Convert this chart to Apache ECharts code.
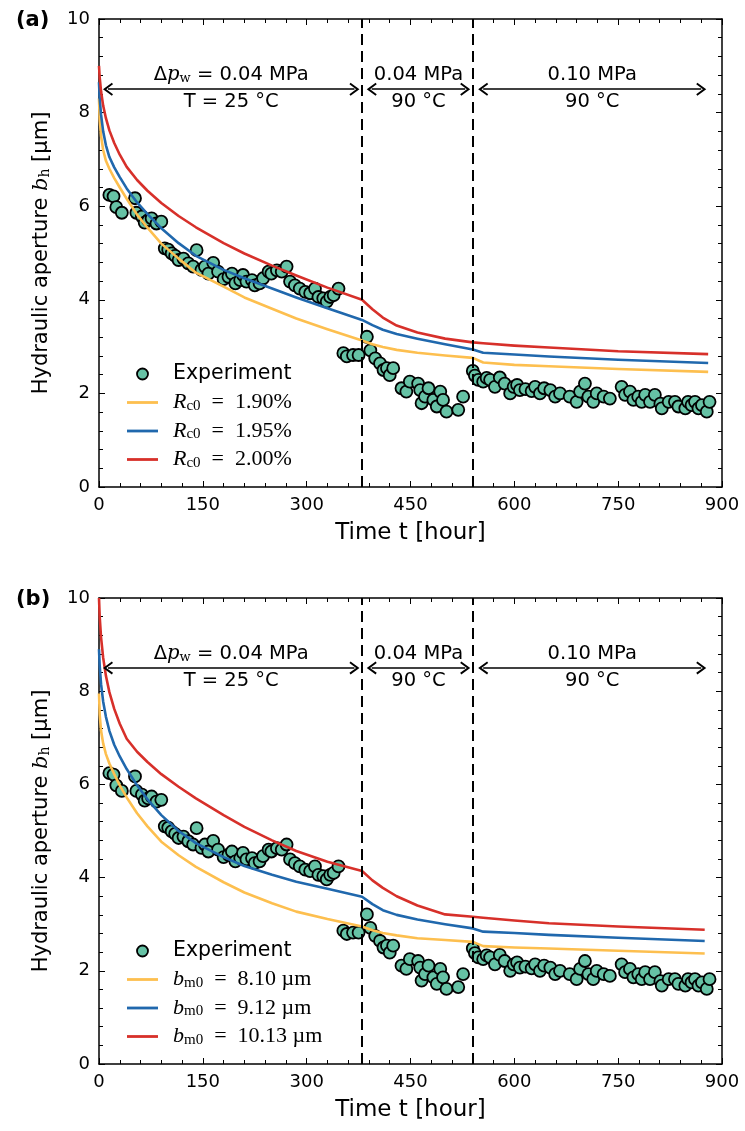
<!DOCTYPE html>
<html><head><meta charset="utf-8">
<script src="https://cdn.jsdelivr.net/npm/echarts@6/dist/echarts.min.js"></script>
<style>html,body{margin:0;padding:0;background:#fff}#c{width:745px;height:1131px}</style>
</head><body><div id="c"></div><script>
// ---------- data ----------
const expTime = [15,21,25,33,52,54,62,66,71,76,83,90,
  95,100,105,110,115,122,129,136,141,148,153,158,165,172,180,187,192,197,204,208,213,221,225,232,237,245,249,257,264,271,276,283,290,298,305,312,317,324,329,334,339,346,
  353,358,367,375,387,392,
  399,406,411,416,420,425,437,444,449,461,464,466,471,476,483,488,493,497,502,519,526,
  540,543,548,555,560,565,572,579,586,594,599,604,608,616,625,630,637,643,652,659,666,680,690,695,702,707,714,719,729,738,755,760,767,772,779,784,789,796,803,811,813,823,832,837,847,851,856,861,866,871,878,882];
const expAperture = [6.24,6.21,5.98,5.86,6.17,5.86,5.78,5.65,5.70,5.74,5.63,5.67,
  5.10,5.07,4.99,4.94,4.85,4.88,4.78,4.71,5.06,4.64,4.71,4.56,4.79,4.60,4.44,4.49,4.56,4.35,4.42,4.53,4.39,4.42,4.31,4.35,4.46,4.60,4.56,4.63,4.60,4.71,4.39,4.31,4.24,4.17,4.14,4.24,4.06,4.03,3.96,4.06,4.10,4.24,
  2.86,2.79,2.82,2.82,3.21,2.92,
  2.75,2.64,2.50,2.54,2.39,2.54,2.11,2.04,2.25,2.21,2.07,1.79,1.93,2.11,1.86,1.72,2.04,1.86,1.61,1.65,1.93,
  2.48,2.38,2.29,2.25,2.33,2.29,2.14,2.34,2.21,2.00,2.14,2.18,2.07,2.09,2.05,2.14,2.00,2.11,2.07,1.93,2.00,1.93,1.82,2.04,2.21,1.93,1.82,2.00,1.93,1.89,2.14,1.97,2.04,1.86,1.93,1.82,1.97,1.82,1.97,1.78,1.68,1.82,1.82,1.72,1.68,1.82,1.75,1.82,1.68,1.75,1.61,1.82];

// panel (a): model curves for R_c0
const timeA = [0,1,3,6,10,15,22,30,40,55,70,90,115,140,180,210,250,285,330,380,395,410,430,460,500,540,555,600,650,750,880];
const rc190 = [8.3,7.85,7.5,7.2,6.97,6.8,6.6,6.4,6.16,5.82,5.54,5.2,4.88,4.58,4.28,4.05,3.81,3.6,3.37,3.13,3.05,2.99,2.93,2.87,2.81,2.76,2.66,2.61,2.58,2.52,2.46];
const rc195 = [8.65,8.3,7.95,7.6,7.3,7.05,6.83,6.62,6.38,6.08,5.83,5.53,5.21,4.94,4.64,4.46,4.24,4.05,3.82,3.57,3.46,3.36,3.27,3.17,3.05,2.94,2.87,2.83,2.79,2.72,2.65];
const rc200 = [9.0,8.75,8.45,8.15,7.88,7.62,7.35,7.1,6.84,6.56,6.33,6.07,5.79,5.55,5.21,4.99,4.73,4.52,4.26,4.0,3.8,3.62,3.45,3.3,3.17,3.09,3.07,3.02,2.98,2.9,2.84];

// panel (b): model curves for b_m0
const timeB = [0,1,3,6,10,15,22,30,40,55,70,90,115,140,180,210,250,285,330,380,395,410,430,460,500,540,555,600,650,750,875];
const bm810 = [7.95,7.5,7.15,6.88,6.65,6.45,6.22,5.98,5.72,5.38,5.1,4.77,4.48,4.23,3.9,3.68,3.45,3.27,3.11,2.95,2.87,2.81,2.76,2.7,2.66,2.62,2.53,2.5,2.48,2.43,2.37];
const bm912 = [8.9,8.55,8.15,7.78,7.45,7.15,6.85,6.6,6.33,5.98,5.68,5.34,5.0,4.74,4.44,4.25,4.06,3.91,3.76,3.59,3.43,3.3,3.2,3.1,3.0,2.91,2.84,2.81,2.77,2.71,2.64];
const bm1013 = [10.0,9.6,9.15,8.72,8.33,7.98,7.62,7.3,6.98,6.7,6.48,6.22,5.95,5.7,5.34,5.09,4.8,4.57,4.34,4.14,3.94,3.78,3.6,3.4,3.21,3.16,3.14,3.08,3.02,2.95,2.88];

// phases
const phaseBounds = [380, 540];
const phaseArrowFrom = [13, 394, 555];
const phaseArrowTo = [369, 529, 870];
const phaseArrowLevel = 8.5;
const phaseTop = ['{n|Δ}{i|p}{s|w}{n| = 0.04 MPa}', '{n|0.04 MPa}', '{n|0.10 MPa}'];
const phaseBottom = ['T = 25 °C', '90 °C', '90 °C'];

const legendA = {'Experiment':'Experiment','Ra1':'{r|R}{s|c0}{n|  =  1.90%}','Ra2':'{r|R}{s|c0}{n|  =  1.95%}','Ra3':'{r|R}{s|c0}{n|  =  2.00%}'};
const legendB = {'Experiment':'Experiment','Rb1':'{r|b}{s|m0}{n|  =  8.10 µm}','Rb2':'{r|b}{s|m0}{n|  =  9.12 µm}','Rb3':'{r|b}{s|m0}{n|  =  10.13 µm}'};

// ---------- styling ----------
const C_EXP = '#66c2a5', C_Y = '#fdbf4f', C_B = '#2068ad', C_R = '#d7302a';
const FONT = 'DejaVu Sans';
const CHEV = 'path://M50,0 L100,80 L88,90 L50,30 L12,90 L0,80 Z';
const LINE_ICON = 'path://M0,0 L31,0 L31,2.8 L0,2.8 Z';

const zip = (a, b) => a.map((v, i) => [v, b[i]]);

const richText = {
  n: {fontFamily: FONT, fontSize: 19.5, color: '#000', lineHeight: 24, verticalAlign: 'bottom'},
  i: {fontFamily: 'DejaVu Serif', fontStyle: 'italic', fontSize: 19.5, color: '#000', lineHeight: 24, verticalAlign: 'bottom'},
  s: {fontFamily: 'DejaVu Serif', fontSize: 13, color: '#000', lineHeight: 17, verticalAlign: 'bottom'}
};
const legendRich = {
  r: {fontFamily: 'Liberation Serif', fontStyle: 'italic', fontSize: 22, color: '#000', lineHeight: 22, verticalAlign: 'bottom'},
  s: {fontFamily: 'Liberation Serif', fontSize: 15, color: '#000', lineHeight: 16, verticalAlign: 'bottom'},
  n: {fontFamily: 'Liberation Serif', fontSize: 22, color: '#000', lineHeight: 22, verticalAlign: 'bottom'}
};

function xAxisPair(g) {
  const base = {
    gridIndex: g, type: 'value', min: 0, max: 900, interval: 150,
    axisLine: {onZero: false, lineStyle: {color: '#000', width: 1.5}},
    axisTick: {inside: true, length: 6, lineStyle: {color: '#000', width: 1}},
    minorTick: {show: true, splitNumber: 5, length: 4, lineStyle: {color: '#000', width: 1}},
    splitLine: {show: false}, minorSplitLine: {show: false}
  };
  return [
    Object.assign({}, base, {position: 'bottom',
      axisLabel: {color: '#000', fontSize: 18, fontFamily: FONT, margin: 9},
      name: 'Time t [hour]', nameLocation: 'middle', nameGap: 35,
      nameTextStyle: {color: '#000', fontSize: 23, fontFamily: FONT}}),
    Object.assign({}, base, {position: 'top', axisLabel: {show: false}})
  ];
}
function yAxisPair(g) {
  const base = {
    gridIndex: g, type: 'value', min: 0, max: 10, interval: 2,
    axisLine: {onZero: false, lineStyle: {color: '#000', width: 1.5}},
    axisTick: {inside: true, length: 6, lineStyle: {color: '#000', width: 1}},
    minorTick: {show: true, splitNumber: 5, length: 4, lineStyle: {color: '#000', width: 1}},
    splitLine: {show: false}, minorSplitLine: {show: false}
  };
  return [
    Object.assign({}, base, {position: 'left',
      axisLabel: {color: '#000', fontSize: 18, fontFamily: FONT, margin: 9},
      name: '{n|Hydraulic aperture }{i|b}{s|h}{n| [µm]}', nameLocation: 'middle', nameGap: 47,
      nameTextStyle: {color: '#000', rich: {
        n: {fontFamily: FONT, fontSize: 21, color: '#000', lineHeight: 25, verticalAlign: 'bottom'},
        i: {fontFamily: 'DejaVu Serif', fontStyle: 'italic', fontSize: 21, color: '#000', lineHeight: 25, verticalAlign: 'bottom'},
        s: {fontFamily: 'DejaVu Serif', fontSize: 14, color: '#000', lineHeight: 18, verticalAlign: 'bottom'}}}}),
    Object.assign({}, base, {position: 'right', axisLabel: {show: false}})
  ];
}

function phaseMarks() {
  const d = phaseBounds.map(x => ({xAxis: x}));
  for (let k = 0; k < 3; k++) {
    d.push([
      {coord: [phaseArrowFrom[k], phaseArrowLevel], symbol: CHEV, symbolSize: [13, 10],
       lineStyle: {type: 'solid', width: 1.6, color: '#000'},
       label: {show: true, position: 'insideMiddleTop', distance: 4, formatter: phaseTop[k], rich: richText}},
      {coord: [phaseArrowTo[k], phaseArrowLevel], symbol: CHEV, symbolSize: [13, 10]}
    ]);
    d.push([
      {coord: [phaseArrowFrom[k], phaseArrowLevel], symbol: 'none',
       lineStyle: {type: 'solid', width: 0.1, color: 'rgba(0,0,0,0)'},
       label: {show: true, position: 'insideMiddleBottom', distance: 3, formatter: phaseBottom[k],
               color: '#000', fontSize: 19.5, fontFamily: FONT}},
      {coord: [phaseArrowTo[k], phaseArrowLevel], symbol: 'none'}
    ]);
  }
  return {
    silent: true, animation: false, symbol: ['none', 'none'],
    label: {show: false},
    lineStyle: {color: '#000', width: 2, type: [11, 6]},
    emphasis: {disabled: true},
    data: d
  };
}

function expSeries(g) {
  return {
    name: 'Experiment', type: 'scatter', xAxisIndex: 2 * g, yAxisIndex: 2 * g,
    data: zip(expTime, expAperture), symbol: 'circle', symbolSize: 12, z: 2,
    itemStyle: {color: C_EXP, borderColor: '#000', borderWidth: 1.8, opacity: 1},
    markLine: phaseMarks()
  };
}
function curve(name, g, t, v, color) {
  return {
    name, type: 'line', xAxisIndex: 2 * g, yAxisIndex: 2 * g, data: zip(t, v),
    showSymbol: false, symbol: 'none', smooth: false, z: 3,
    lineStyle: {color, width: 2.6, join: 'round'}, itemStyle: {color}
  };
}
function legend(g, top, names, map) {
  return {
    show: true, orient: 'vertical', left: 122, top, itemWidth: 31, itemHeight: 11, itemGap: 6.5,
    selectedMode: false,
    data: names.map((n, i) => i === 0
      ? {name: n, icon: 'circle', itemStyle: {color: C_EXP, borderColor: '#000', borderWidth: 1.8}}
      : {name: n, icon: LINE_ICON}),
    formatter: n => map[n],
    textStyle: {color: '#000', fontFamily: FONT, fontSize: 20.5, lineHeight: 22, padding: [0, 0, 0, 10], rich: legendRich}
  };
}

const chart = echarts.init(document.getElementById('c'));
chart.setOption({
  animation: false,
  backgroundColor: '#fff',
  title: [
    {text: '(a)', left: 11, top: 5, textStyle: {fontFamily: FONT, fontWeight: 'bold', fontSize: 21, color: '#000'}},
    {text: '(b)', left: 11, top: 584, textStyle: {fontFamily: FONT, fontWeight: 'bold', fontSize: 21, color: '#000'}}
  ],
  grid: [
    {left: 99, top: 19, width: 623, height: 468},
    {left: 99, top: 598, width: 623, height: 466}
  ],
  xAxis: [...xAxisPair(0), ...xAxisPair(1)],
  yAxis: [...yAxisPair(0), ...yAxisPair(1)],
  legend: [
    legend(0, 358, ['Experiment', 'Ra1', 'Ra2', 'Ra3'], legendA),
    legend(1, 935, ['Experiment', 'Rb1', 'Rb2', 'Rb3'], legendB)
  ],
  series: [
    expSeries(0),
    curve('Ra1', 0, timeA, rc190, C_Y),
    curve('Ra2', 0, timeA, rc195, C_B),
    curve('Ra3', 0, timeA, rc200, C_R),
    expSeries(1),
    curve('Rb1', 1, timeB, bm810, C_Y),
    curve('Rb2', 1, timeB, bm912, C_B),
    curve('Rb3', 1, timeB, bm1013, C_R)
  ]
});
</script></body></html>
